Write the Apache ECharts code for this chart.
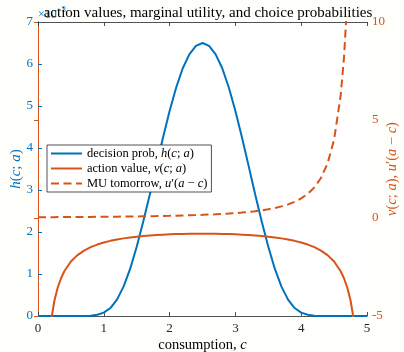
<!DOCTYPE html>
<html>
<head>
<meta charset="utf-8">
<script src="https://cdn.jsdelivr.net/npm/echarts@6/dist/echarts.min.js"></script>
<style>
  html, body { margin: 0; padding: 0; background: #fefefb; }
  #chart { width: 404px; height: 352px; }
</style>
</head>
<body>
<div id="chart"></div>
<script>
// consumption grid (wealth a = 5)
const consumption = [0, 0.1, 0.2, 0.25, 0.3, 0.35, 0.4,
  0.5, 0.6, 0.7, 0.8, 0.9, 1.0, 1.1, 1.2, 1.3, 1.4, 1.5, 1.6, 1.7, 1.8, 1.9,
  2.0, 2.1, 2.2, 2.3, 2.4, 2.5, 2.6, 2.7, 2.8, 2.9, 3.0, 3.1, 3.2, 3.3, 3.4,
  3.5, 3.6, 3.7, 3.8, 3.9, 4.0, 4.1, 4.2, 4.3, 4.4, 4.5,
  4.6, 4.65, 4.7, 4.75, 4.8, 4.9, 5.0];

// decision probability h(c;a), in units of 1e-3
const decisionProb = [0, 0, 0, 0, 0, 0, 0,
  0, 0, 0.002, 0.008, 0.03, 0.08, 0.19, 0.39, 0.70, 1.12, 1.65, 2.25, 2.90, 3.58, 4.25,
  4.88, 5.44, 5.90, 6.23, 6.43, 6.50, 6.43, 6.23, 5.90, 5.44, 4.88, 4.25, 3.58, 2.90, 2.25,
  1.65, 1.12, 0.70, 0.39, 0.19, 0.08, 0.03, 0.008, 0.002, 0, 0,
  0, 0, 0, 0, 0, 0, 0];

// action value v(c;a)
const actionValue = [null, null, -5.208, -4.211, -3.546, -3.072, -2.717,
  -2.222, -1.894, -1.661, -1.488, -1.355, -1.250, -1.166, -1.097, -1.040, -0.992, -0.952, -0.919, -0.891, -0.868, -0.849,
  -0.833, -0.821, -0.812, -0.805, -0.801, -0.800, -0.801, -0.805, -0.812, -0.821, -0.833, -0.849, -0.868, -0.891, -0.919,
  -0.952, -0.992, -1.040, -1.097, -1.166, -1.250, -1.355, -1.488, -1.661, -1.894, -2.222,
  -2.717, -3.072, -3.546, -4.211, -5.208, null, null];

// marginal utility tomorrow u'(a-c)
const muTomorrow = [0.0400, 0.0416, 0.0434, 0.0443, 0.0453, 0.0462, 0.0473,
  0.0494, 0.0517, 0.0541, 0.0567, 0.0595, 0.0625, 0.0657, 0.0693, 0.0730, 0.0772, 0.0816, 0.0865, 0.0918, 0.0977, 0.1041,
  0.1111, 0.1189, 0.1276, 0.1372, 0.1479, 0.1600, 0.1736, 0.1890, 0.2066, 0.2268, 0.2500, 0.2770, 0.3086, 0.3460, 0.3906,
  0.4444, 0.5102, 0.5917, 0.6944, 0.8264, 1.0000, 1.2346, 1.5625, 2.0408, 2.7778, 4.0000,
  6.25, 8.163, 11.11, 16, 25, 100, null];

const xTicks = [0, 1, 2, 3, 4, 5];
const leftTicks = [0, 1, 2, 3, 4, 5, 6, 7];
const rightTicks = [-5, 0, 5, 10];

const BLUE = '#0072BD';
const ORANGE = '#D95319';
const SERIF = '"Liberation Serif", "DejaVu Serif", serif';

const pairs = ys => consumption.map((c, i) => [c, ys[i]]);

const mathRich = (color, size) => ({
  n: { fontFamily: SERIF, fontSize: size, color: color },
  i: { fontFamily: SERIF, fontSize: size, fontStyle: 'italic', color: color }
});

const legendText = {
  'decision prob': '{n|decision prob, }{i|h}{n|(}{i|c}{n|; }{i|a}{n|)}',
  'action value': '{n|action value, }{i|v}{n|(}{i|c}{n|; }{i|a}{n|)}',
  'MU tomorrow': '{n|MU tomorrow, }{i|u}{n|′(}{i|a}{n| − }{i|c}{n|)}'
};

const chart = echarts.init(document.getElementById('chart'), null, { renderer: 'canvas' });

chart.setOption({
  animation: false,
  backgroundColor: '#fefefb',
  title: {
    text: 'action values, marginal utility, and choice probabilities',
    left: 203, top: 1, textAlign: 'center',
    textStyle: { fontFamily: SERIF, fontSize: 15, fontWeight: 'normal', color: '#000' }
  },
  grid: {
    left: 38, right: 37, top: 22, bottom: 36,
    outerBoundsMode: 'none', containLabel: false,
    show: true, backgroundColor: '#fff', borderWidth: 0
  },
  legend: {
    orient: 'vertical', left: 47, top: 145,
    padding: [2, 4, 2, 3], itemGap: 2, itemWidth: 31, itemHeight: 12,
    backgroundColor: '#fff', borderColor: '#262626', borderWidth: 0.8, borderRadius: 0,
    data: ['decision prob', 'action value', 'MU tomorrow'],
    formatter: name => legendText[name],
    itemStyle: { color: 'rgba(0,0,0,0)', borderColor: 'rgba(0,0,0,0)', borderWidth: 0 },
    textStyle: { rich: mathRich('#000', 12.5) }
  },
  graphic: [{
    type: 'text', left: 38, top: 9, z: 1,
    style: {
      text: '×10',
      fontFamily: SERIF, fontSize: 12, fill: BLUE
    }
  }, {
    type: 'text', left: 57, top: 5, z: 1,
    style: {
      text: '−3',
      fontFamily: SERIF, fontSize: 8.5, fill: BLUE
    }
  }],
  xAxis: [{
    type: 'value', position: 'bottom', min: 0, max: 5, interval: 1,
    axisLine: { lineStyle: { color: '#262626', width: 0.8 } },
    axisTick: { inside: true, length: 4, lineStyle: { color: '#262626', width: 0.8 } },
    axisLabel: { margin: 6, fontFamily: SERIF, fontSize: 13, color: '#262626',
      customValues: xTicks },
    splitLine: { show: false },
    name: '{n|consumption, }{i|c}', nameLocation: 'middle', nameGap: 22, nameMoveOverlap: false,
    nameTextStyle: { rich: mathRich('#000', 14.5) }
  }, {
    type: 'value', position: 'top', min: 0, max: 5, interval: 1,
    axisLine: { onZero: false, lineStyle: { color: '#262626', width: 0.8 } },
    axisTick: { inside: true, length: 4, lineStyle: { color: '#262626', width: 0.8 } },
    axisLabel: { show: false },
    splitLine: { show: false }
  }],
  yAxis: [{
    type: 'value', position: 'left', min: 0, max: 7, interval: 1,
    axisLine: { show: true, lineStyle: { color: BLUE, width: 1 } },
    axisTick: { show: true, inside: true, length: 4, lineStyle: { color: BLUE } },
    axisLabel: { margin: 5, fontFamily: SERIF, fontSize: 13, color: BLUE, customValues: leftTicks },
    splitLine: { show: false },
    name: '{i|h}{n|(}{i|c}{n|; }{i|a}{n|)}', nameLocation: 'middle', nameGap: 14, nameRotate: 90,
    nameMoveOverlap: false,
    nameTextStyle: { rich: mathRich(BLUE, 15) }
  }, {
    type: 'value', position: 'right', min: -5, max: 10, interval: 5,
    axisLine: { show: true, lineStyle: { color: ORANGE, width: 1 } },
    axisTick: { show: true, inside: true, length: 4, lineStyle: { color: ORANGE } },
    axisLabel: { margin: 5, fontFamily: SERIF, fontSize: 13, color: ORANGE, customValues: rightTicks },
    splitLine: { show: false },
    name: '{i|v}{n|(}{i|c}{n|; }{i|a}{n|), }{i|u}{n|′(}{i|a}{n| − }{i|c}{n|)}',
    nameLocation: 'middle', nameGap: 18, nameRotate: 90,
    nameMoveOverlap: false,
    nameTextStyle: { rich: mathRich(ORANGE, 14.5) }
  }],
  series: [{
    name: 'decision prob', type: 'line', xAxisIndex: 0, yAxisIndex: 0,
    data: pairs(decisionProb), showSymbol: false, symbol: 'none', clip: true,
    lineStyle: { color: BLUE, width: 2 }, itemStyle: { color: BLUE }
  }, {
    name: 'action value', type: 'line', xAxisIndex: 0, yAxisIndex: 1,
    data: pairs(actionValue), showSymbol: false, symbol: 'none', clip: true,
    lineStyle: { color: ORANGE, width: 2 }, itemStyle: { color: ORANGE }
  }, {
    name: 'MU tomorrow', type: 'line', xAxisIndex: 0, yAxisIndex: 1,
    data: pairs(muTomorrow), showSymbol: false, symbol: 'none', clip: true,
    lineStyle: { color: ORANGE, width: 2, type: [8, 4.5] }, itemStyle: { color: ORANGE }
  }]
});
</script>
</body>
</html>
